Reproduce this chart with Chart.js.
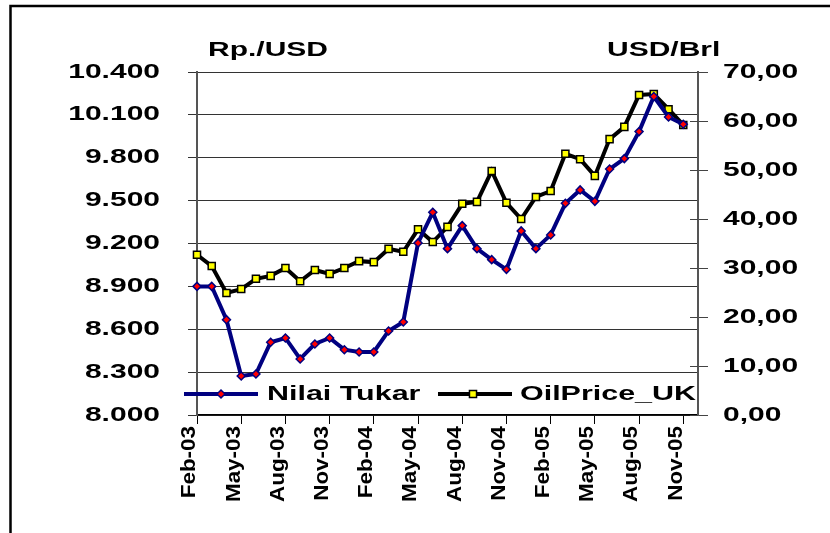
<!DOCTYPE html>
<html><head><meta charset="utf-8">
<script src="https://cdn.jsdelivr.net/npm/chart.js@4.4.1/dist/chart.umd.min.js"></script>
<style>html,body{margin:0;padding:0;background:#fff;overflow:hidden}canvas{display:block}</style>
</head><body>
<canvas id="c" width="830" height="533"></canvas>
<script>
// ---- data ----
const months = ['Feb-03','Mar-03','Apr-03','May-03','Jun-03','Jul-03','Aug-03','Sep-03','Oct-03','Nov-03','Dec-03',
  'Jan-04','Feb-04','Mar-04','Apr-04','May-04','Jun-04','Jul-04','Aug-04','Sep-04','Oct-04','Nov-04','Dec-04',
  'Jan-05','Feb-05','Mar-05','Apr-05','May-05','Jun-05','Jul-05','Aug-05','Sep-05','Oct-05','Nov-05','Dec-05'];
const nilaiTukar = [8900, 8900, 8667, 8273, 8287, 8509, 8539, 8392, 8497, 8539, 8457, 8441, 8441, 8588, 8651,
  9204, 9418, 9164, 9325, 9164, 9087, 9019, 9288, 9164, 9260, 9481, 9575, 9495, 9721, 9794, 9983, 10228, 10085, 10034];
const oilPriceUK = [32.7, 30.4, 24.9, 25.7, 27.8, 28.4, 30.0, 27.3, 29.6, 28.8, 30.0, 31.4, 31.2, 33.9, 33.3,
  37.9, 35.3, 38.4, 43.1, 43.5, 49.8, 43.3, 40.0, 44.5, 45.7, 53.3, 52.2, 48.8, 56.3, 58.8, 65.3, 65.5, 62.4, 59.2];
const seriesNames = ['Nilai Tukar', 'OilPrice_UK'];
const axisTitles = ['Rp./USD', 'USD/Brl'];

const FAMILY = '"Liberation Sans", Arial, sans-serif';
// horizontal stretch of the wide Excel-style text, keyed by font size
const STRETCH = {'20': 1.5, '19.5': 1.15, '21': 1.45};

const canvas = document.getElementById('c');
const ctx0 = canvas.getContext('2d');
(function patch(ctx){
  const orig = ctx.fillText;
  ctx.fillText = function(text, x, y, maxWidth){
    const m = /([\d.]+)px/.exec(this.font);
    const f = m ? STRETCH[m[1]] : undefined;
    if (!f) return maxWidth === undefined ? orig.call(this, text, x, y) : orig.call(this, text, x, y, maxWidth);
    this.save(); this.translate(x, y); this.scale(f, 1);
    orig.call(this, text, 0, 0);
    this.restore();
  };
})(ctx0);

function fmtRp(v){ return String(Math.round(v)).replace(/\B(?=(\d{3})+(?!\d))/g, '.'); }
function fmtOil(v){ return v.toFixed(2).replace('.', ','); }

const decor = {
  id: 'decor',
  beforeDraw(chart){
    const c = chart.ctx;
    c.save();
    c.strokeStyle = '#000'; c.lineWidth = 2.5;
    c.strokeRect(10.5, 6, 1000, 1000);
    c.restore();
  },
  afterDraw(chart){
    const c = chart.ctx, ca = chart.chartArea;
    c.save();
    // inner half of right axis tick marks
    const y1 = chart.scales.y1;
    c.strokeStyle = '#444'; c.lineWidth = 1;
    y1.ticks.forEach(t => {
      const py = Math.round(y1.getPixelForValue(t.value)) + 0.5;
      c.beginPath(); c.moveTo(ca.right - 8, py); c.lineTo(ca.right, py); c.stroke();
    });
    // axis titles
    c.fillStyle = '#000';
    c.font = 'bold 20px ' + FAMILY;
    c.textBaseline = 'alphabetic'; c.textAlign = 'left';
    c.fillText(axisTitles[0], ca.left + 11, 56);
    c.fillText(axisTitles[1], ca.right - 91, 56);
    // legend
    const ly = ca.bottom - 21;
    const ds = chart.data.datasets;
    const items = [
      {x0: ca.left - 13, x1: ca.left + 61, mx: ca.left + 24, tx: ca.left + 70, d: ds[0]},
      {x0: ca.left + 241, x1: ca.left + 315, mx: ca.left + 276, tx: ca.left + 323, d: ds[1]}
    ];
    items.forEach(it => {
      c.strokeStyle = it.d.borderColor; c.lineWidth = 4;
      c.beginPath(); c.moveTo(it.x0, ly); c.lineTo(it.x1, ly); c.stroke();
      c.fillStyle = it.d.pointBackgroundColor; c.strokeStyle = it.d.pointBorderColor; c.lineWidth = 1.5;
      c.beginPath();
      if (it.d.pointStyle === 'rectRot') {
        const r = it.d.pointRadius;
        c.moveTo(it.mx - r, ly); c.lineTo(it.mx, ly - r); c.lineTo(it.mx + r, ly); c.lineTo(it.mx, ly + r); c.closePath();
      } else {
        const s = it.d.pointRadius * Math.SQRT1_2;
        c.rect(it.mx - s, ly - s, 2 * s, 2 * s);
      }
      c.fill(); c.stroke();
      c.fillStyle = '#000';
      c.font = 'bold 21px ' + FAMILY;
      c.textBaseline = 'middle'; c.textAlign = 'left';
      c.fillText(it.d.label, it.tx, ly);
    });
    c.restore();
  }
};

new Chart(ctx0, {
  type: 'line',
  data: {
    labels: months,
    datasets: [
      {label: seriesNames[0], data: nilaiTukar, yAxisID: 'y', borderColor: '#000080', borderWidth: 4,
       pointStyle: 'rectRot', pointRadius: 4, pointBackgroundColor: '#ff0000', pointBorderColor: '#000080',
       pointBorderWidth: 1.5, tension: 0, clip: false},
      {label: seriesNames[1], data: oilPriceUK, yAxisID: 'y1', borderColor: '#000000', borderWidth: 4,
       pointStyle: 'rect', pointRadius: 5, pointBackgroundColor: '#ffff00', pointBorderColor: '#000000',
       pointBorderWidth: 1.5, tension: 0, clip: false}
    ]
  },
  options: {
    responsive: false, animation: false, devicePixelRatio: 1,
    layout: {padding: {top: 72, left: 0, right: 0, bottom: 0}},
    plugins: {legend: {display: false}, tooltip: {enabled: false}, title: {display: false}},
    scales: {
      x: {
        type: 'category', offset: false,
        grid: {drawOnChartArea: false, drawTicks: true, tickLength: 9,
               tickColor: c => (c.index % 3 === 0 ? '#000' : 'rgba(0,0,0,0)'), lineWidth: 1},
        border: {color: '#000', width: 1.5},
        ticks: {autoSkip: false, maxRotation: 90, minRotation: 90, padding: 2, labelOffset: -7, color: '#000',
                font: {family: FAMILY, size: 19.5, weight: 'bold'},
                callback: function(v, i){ return i % 3 === 0 ? this.getLabelForValue(v) : ''; }},
        afterFit: s => { s.height = 118; }
      },
      y: {
        position: 'left', min: 8000, max: 10400,
        ticks: {stepSize: 300, padding: 28, color: '#000', font: {family: FAMILY, size: 20, weight: 'bold'},
                callback: v => fmtRp(v)},
        grid: {color: '#333', lineWidth: 1, tickLength: 9, drawTicks: true},
        border: {color: '#555', width: 2},
        afterFit: s => { s.width = 197; }
      },
      y1: {
        position: 'right', min: 0, max: 70,
        ticks: {stepSize: 10, padding: 15, color: '#000', font: {family: FAMILY, size: 20, weight: 'bold'},
                callback: v => fmtOil(v)},
        grid: {drawOnChartArea: false, color: '#444', tickLength: 10},
        border: {color: '#555', width: 2},
        afterFit: s => { s.width = 132; }
      }
    }
  },
  plugins: [decor]
});
</script>
</body></html>
